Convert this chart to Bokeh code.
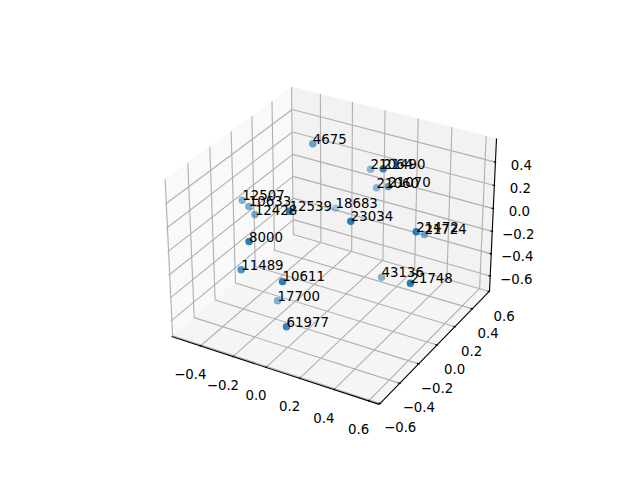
import numpy as np
from bokeh.plotting import figure
from bokeh.embed import file_html
from bokeh.resources import INLINE
from bokeh.core.properties import value

XLIM=(-0.555,0.635); YLIM=(-0.585,0.58); ZLIM=(-0.711,0.572)
labels=["4675","21064","21490","21060","21070","12507","10633","12428","12539","18683","23034","21472","21724","8000","11489","10611","17700","61977","43136","21748"]
xs=[-0.273, 0.007, 0.063, 0.074, 0.121, -0.541, -0.508, -0.467, -0.39, -0.191, -0.078, 0.255, 0.307, -0.406, -0.35, -0.162, -0.144, -0.03, 0.157, 0.295]
ys=[0.313, 0.441, 0.478, 0.389, 0.432, 0.029, 0.041, 0.035, 0.26, 0.41, 0.381, 0.508, 0.504, -0.12, -0.286, -0.183, -0.263, -0.361, 0.307, 0.379]
zs=[0.4, 0.2, 0.2, 0.1, 0.1, 0.0, -0.05, -0.1, -0.2, -0.2, -0.25, -0.3, -0.3, -0.2, -0.3, -0.4, -0.5, -0.6, -0.6, -0.65]
alphas=[.65,.5,.9,.5,.7,.55,.6,.6,.95,.35,.95,.95,.6,.95,.8,.95,.55,.9,.55,.95]
xt=[-0.4,-0.2,0,0.2,0.4,0.6]; yt=[-0.6,-0.4,-0.2,0,0.2,0.4,0.6]; zt=[-0.6,-0.4,-0.2,0,0.2,0.4]

def matrix():
    pb=np.array([4,4,3.])*1.8294640721620434/np.linalg.norm([4,4,3])
    lo=np.array([XLIM[0],YLIM[0],ZLIM[0]]); hi=np.array([XLIM[1],YLIM[1],ZLIM[1]])
    W=np.eye(4)
    for i in range(3):
        W[i,i]=pb[i]/(hi[i]-lo[i]); W[i,3]=-lo[i]*W[i,i]
    el,az=np.radians(30),np.radians(-60)
    ps=np.array([np.cos(el)*np.cos(az),np.cos(el)*np.sin(az),np.sin(el)])
    R=pb/2; eye=R+10*ps
    w=(eye-R)/np.linalg.norm(eye-R); u=np.cross([0,0,1],w); u/=np.linalg.norm(u); v=np.cross(w,u)
    Mr=np.eye(4); Mr[0,:3]=u; Mr[1,:3]=v; Mr[2,:3]=w
    Mt=np.eye(4); Mt[:3,3]=-eye
    P=np.array([[1,0,0,0],[0,1,0,0],[0,0,0,-10.],[0,0,-1,0]])
    return P@Mr@Mt@W
M=matrix()
def proj(x,y,z):
    h=M@np.array([x,y,z,1.])
    X,Y=h[0]/h[3],h[1]/h[3]
    return 143.2+369.6*(X+0.095)/0.185, 480-(52.8+369.6*(Y+0.095)/0.185)

p=figure(width=624,height=464,x_range=(0,624),y_range=(464,0),output_backend="svg",toolbar_location=None,min_border=0)
p.axis.visible=False; p.grid.visible=False; p.outline_line_color=None
dx=(XLIM[1]-XLIM[0])/48; dy=(YLIM[1]-YLIM[0])/48; dz=(ZLIM[1]-ZLIM[0])/48
x0,x1=XLIM[0]-dx,XLIM[1]+dx; y0,y1=YLIM[0]-dy,YLIM[1]+dy; z0,z1=ZLIM[0]-dz,ZLIM[1]+dz
def poly(pts,c):
    q=[proj(*t) for t in pts]; p.patch([a for a,b in q],[b for a,b in q],fill_color=c,line_color=c,line_width=0.5)
poly([(x0,y0,z0),(x0,y1,z0),(x0,y1,z1),(x0,y0,z1)],"#f9f9f9")
poly([(x0,y1,z0),(x1,y1,z0),(x1,y1,z1),(x0,y1,z1)],"#f2f2f2")
poly([(x0,y0,z0),(x1,y0,z0),(x1,y1,z0),(x0,y1,z0)],"#f5f5f5")
def pl(pts,c,w=1.11):
    q=[proj(*t) for t in pts]; p.line([a for a,b in q],[b for a,b in q],line_color=c,line_width=w)
for t in xt: pl([(t,y0,z0),(t,y1,z0),(t,y1,z1)],"#b0b0b0")
for t in yt: pl([(x1,t,z0),(x0,t,z0),(x0,t,z1)],"#b0b0b0")
for t in zt: pl([(x0,y0,t),(x0,y1,t),(x1,y1,t)],"#b0b0b0")
pl([(x0,y0,z0),(x1,y0,z0)],"black"); pl([(x1,y0,z0),(x1,y1,z0)],"black"); pl([(x1,y1,z0),(x1,y1,z1)],"black")
def fmt(t): return ("%.1f"%t).replace("-","\u2212")
def lab(pos,t,o):
    a,b=proj(*pos)
    p.text([a+o[0]],[b+o[1]],text=[fmt(t)],text_font=value("DejaVu Sans"),text_font_size="13.33px",text_align="center",text_baseline="middle",text_color="black")
for t in xt:
    pl([(t,y0+0.2*dy*2,z0),(t,y0-0.1*dy*2,z0)],"black")
    lab((t,y0,z0),t,(-10,28))
for t in yt:
    pl([(x1-0.2*dx*2,t,z0),(x1+0.1*dx*2,t,z0)],"black")
    lab((x1,t,z0),t,(17.5-4.2*t,24))
for t in zt:
    pl([(x1-0.2*dx*2,y1,t),(x1+0.1*dx*2,y1,t)],"black")
    lab((x1,y1,t),t,(26,2.5))
q=[proj(a,b,c) for a,b,c in zip(xs,ys,zs)]
sx=[a for a,b in q]; sy=[b for a,b in q]
p.scatter(sx,sy,size=7.5,fill_color="#1f77b4",line_color=None,fill_alpha=alphas)
p.text(sx,sy,text=labels,y_offset=-5,text_font=value("DejaVu Sans"),text_font_size="13.33px",text_align="left",text_baseline="alphabetic",text_color="black")
open("out.html","w").write(file_html(p,INLINE))
